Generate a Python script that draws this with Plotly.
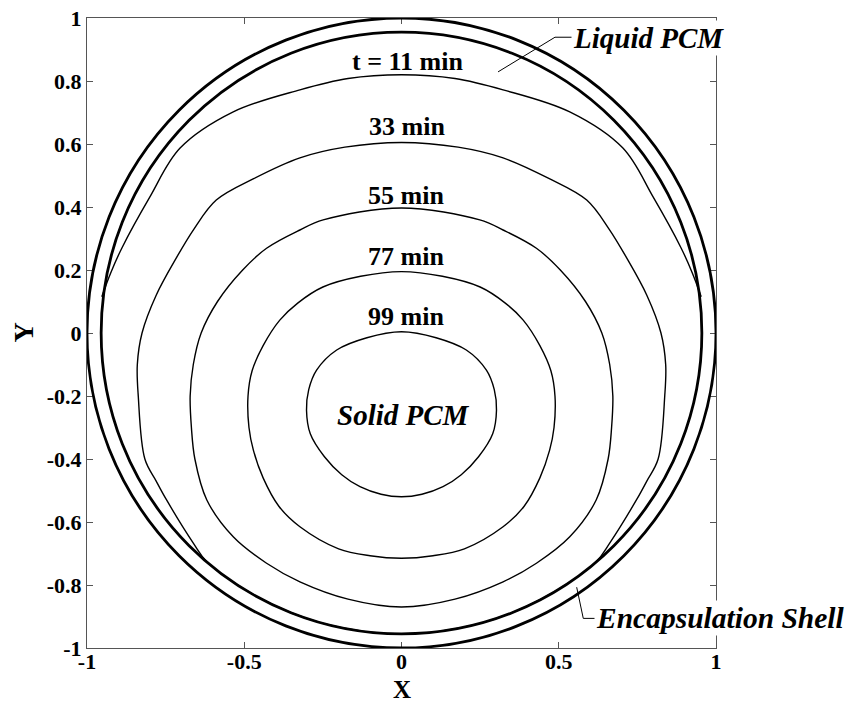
import plotly.graph_objects as go

# solid-liquid interface contours
t11_x = [-0.953, -0.925, -0.889, -0.80, -0.704, -0.535, -0.323, -0.17, 0.0,
         0.17, 0.323, 0.535, 0.704, 0.80, 0.889, 0.925, 0.953]
t11_y = [0.115, 0.19, 0.27, 0.432, 0.587, 0.702, 0.772, 0.808, 0.82,
         0.808, 0.772, 0.702, 0.587, 0.432, 0.27, 0.19, 0.115]

t33_x = [0.0, -0.18, -0.323, -0.47, -0.589, -0.66, -0.715, -0.78, -0.825, -0.84, -0.837, -0.816,
         -0.78, -0.747, -0.662, -0.619, -0.45, -0.25, 0.0, 0.25, 0.45, 0.619, 0.662, 0.747, 0.78,
         0.816, 0.837, 0.84, 0.825, 0.78, 0.715, 0.66, 0.589, 0.47, 0.323, 0.18, 0.0]
t33_y = [0.605, 0.59, 0.556, 0.49, 0.422, 0.33, 0.24, 0.12, 0.0, -0.1, -0.2, -0.4,
         -0.47, -0.53, -0.667, -0.726, -0.842, -0.922, -0.955, -0.922, -0.842, -0.726, -0.667, -0.53, -0.47,
         -0.4, -0.2, -0.1, 0.0, 0.12, 0.24, 0.33, 0.422, 0.49, 0.556, 0.59, 0.605]

t55_x = [0.0, -0.249, -0.323, -0.429, -0.505, -0.585, -0.637, -0.662, -0.672, -0.668, -0.657, -0.619,
         -0.535, -0.429, -0.323, -0.17, 0.0, 0.17, 0.323, 0.429, 0.535, 0.619, 0.657, 0.668, 0.672,
         0.662, 0.637, 0.585, 0.505, 0.429, 0.323, 0.249, 0.0]
t55_y = [0.397, 0.359, 0.327, 0.269, 0.2, 0.1, 0.0, -0.1, -0.2, -0.3, -0.4, -0.53,
         -0.647, -0.731, -0.79, -0.845, -0.87, -0.845, -0.79, -0.731, -0.647, -0.53, -0.4, -0.3, -0.2,
         -0.1, 0.0, 0.1, 0.2, 0.269, 0.327, 0.359, 0.397]

t77_x = [0.0, -0.13, -0.25, -0.33, -0.387, -0.44, -0.475, -0.488, -0.485, -0.471, -0.44, -0.39,
         -0.323, -0.2, -0.1, 0.0, 0.1, 0.2, 0.323, 0.39, 0.44, 0.471, 0.485, 0.488, 0.475, 0.44,
         0.387, 0.33, 0.25, 0.13, 0.0]
t77_y = [0.195, 0.18, 0.146, 0.095, 0.041, -0.04, -0.12, -0.2, -0.3, -0.372, -0.46, -0.55,
         -0.615, -0.685, -0.707, -0.715, -0.707, -0.685, -0.615, -0.55, -0.46, -0.372, -0.3, -0.2, -0.12, -0.04,
         0.041, 0.095, 0.146, 0.18, 0.195]

t99_x = [0.0, -0.11, -0.206, -0.27, -0.295, -0.302, -0.29, -0.245, -0.19, -0.132, -0.065, 0.0,
         0.065, 0.132, 0.19, 0.245, 0.29, 0.302, 0.295, 0.27, 0.206, 0.11, 0.0]
t99_y = [0.004, -0.015, -0.054, -0.118, -0.18, -0.245, -0.32, -0.393, -0.45, -0.488, -0.512, -0.52,
         -0.512, -0.488, -0.45, -0.393, -0.32, -0.245, -0.18, -0.118, -0.054, -0.015, 0.004]

# encapsulation shell radii
shell_outer_r = 1.0
shell_inner_r = 0.955

# labels
time_labels = ["t = 11 min", "33 min", "55 min", "77 min", "99 min"]
label_x = [0.02, 0.017, 0.015, 0.015, 0.015]
label_y = [0.862, 0.656, 0.438, 0.242, 0.052]

# leader lines for callouts
liquid_lead_x = [0.307, 0.488, 0.567]
liquid_lead_y = [0.829, 0.939, 0.939]
shell_lead_x = [0.557, 0.578, 0.651]
shell_lead_y = [-0.807, -0.906, -0.906]

y_ticks = [-1, -0.8, -0.6, -0.4, -0.2, 0, 0.2, 0.4, 0.6, 0.8, 1]
y_ticktext = ["-1", "-0.8", "-0.6", "-0.4", "-0.2", "0", "0.2", "0.4", "0.6", "0.8", "1"]
x_ticks = [-1, -0.5, 0, 0.5, 1]
x_ticktext = ["-1", "-0.5", "0", "0.5", "1"]

serif = "Liberation Serif, Times New Roman, serif"

fig = go.Figure()

for xs, ys in [(t11_x, t11_y), (t33_x, t33_y), (t55_x, t55_y), (t77_x, t77_y), (t99_x, t99_y)]:
    fig.add_trace(go.Scatter(x=xs, y=ys, mode="lines",
                             line=dict(color="black", width=1.4, shape="spline", smoothing=1.0),
                             showlegend=False, hoverinfo="skip"))

for xs, ys in [(liquid_lead_x, liquid_lead_y), (shell_lead_x, shell_lead_y)]:
    fig.add_trace(go.Scatter(x=xs, y=ys, mode="lines", line=dict(color="black", width=1),
                             showlegend=False, hoverinfo="skip"))

for r in [shell_outer_r, shell_inner_r]:
    fig.add_shape(type="circle", xref="x", yref="y", x0=-r, y0=-r, x1=r, y1=r,
                  line=dict(color="black", width=2.8))

for txt, lx, ly in zip(time_labels, label_x, label_y):
    fig.add_annotation(x=lx, y=ly, text=txt, showarrow=False,
                       font=dict(family=serif, size=26, color="black", weight="bold"))

fig.add_annotation(x=0.006, y=-0.26, text="Solid PCM", showarrow=False,
                   font=dict(family=serif, size=29, color="black", weight="bold", style="italic"))
fig.add_annotation(x=0.539, y=0.937, text="Liquid PCM", showarrow=False, xanchor="left",
                   bgcolor="white", borderpad=1,
                   font=dict(family=serif, size=29, color="black", weight="bold", style="italic"))
fig.add_annotation(x=0.612, y=-0.905, text="Encapsulation Shell", showarrow=False, xanchor="left",
                   bgcolor="white", borderpad=1,
                   font=dict(family=serif, size=29.5, color="black", weight="bold", style="italic"))

# axis titles
fig.add_annotation(x=0.5, y=-57 / 630, xref="paper", yref="paper", xanchor="center", yanchor="bottom",
                   text="X", showarrow=False,
                   font=dict(family=serif, size=25, color="black", weight="bold"))
fig.add_annotation(x=-64.5 / 629, y=0.5, xref="paper", yref="paper", xanchor="center", yanchor="middle",
                   textangle=-90, text="Y", showarrow=False,
                   font=dict(family=serif, size=28, color="black", weight="bold"))

axis_common = dict(showgrid=False, zeroline=False, showline=True, linecolor="#555", linewidth=1,
                   mirror="ticks", ticks="inside", ticklen=6, tickcolor="#555", automargin=False,
                   ticklabeloverflow="allow",
                   tickfont=dict(family=serif, size=22, color="black", weight="bold"))

fig.update_xaxes(range=[-1, 1], tickvals=x_ticks, ticktext=x_ticktext, ticklabelstandoff=-6,
                 **axis_common)
fig.update_yaxes(range=[-1, 1], tickvals=y_ticks, ticktext=y_ticktext, **axis_common)

# the page body adds an 8px margin, so the figure is sized to fit the visible window
fig.update_layout(width=856, height=698, plot_bgcolor="white", paper_bgcolor="white",
                  margin=dict(l=79, r=148, t=10, b=58), showlegend=False)

fig.write_html("out.html")
